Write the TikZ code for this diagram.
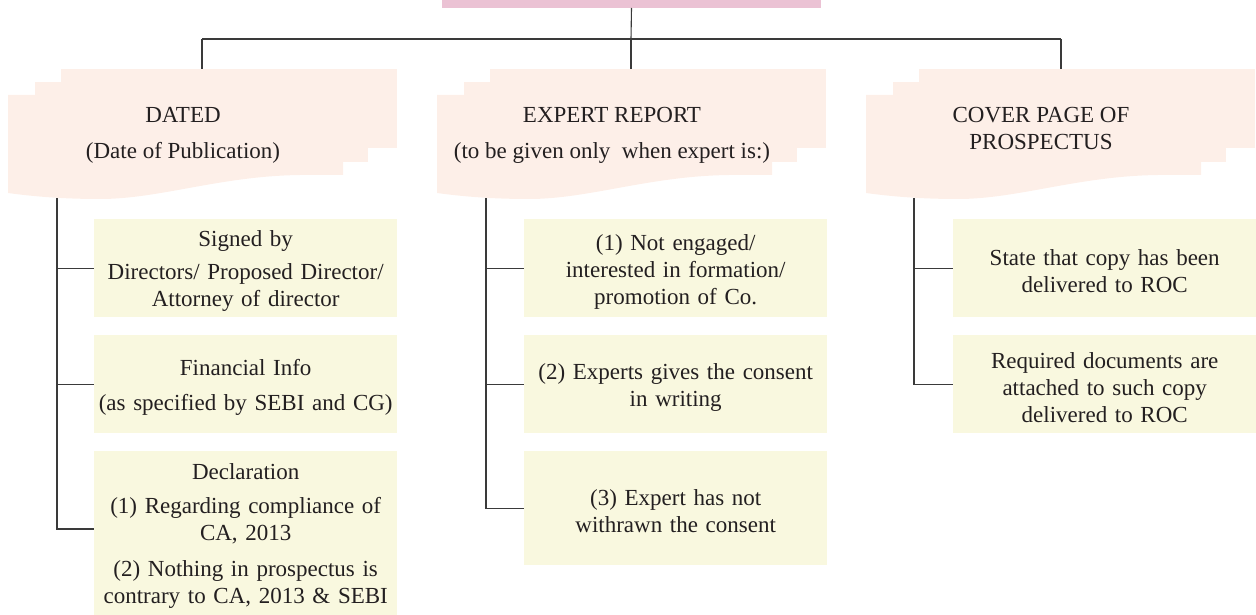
\documentclass[tikz,border=0pt]{standalone}
\usepackage{fontspec}
\setmainfont{Liberation Serif}
\usetikzlibrary{calc}
\definecolor{titlepink}{HTML}{EBC2D4}
\definecolor{hdrpeach}{HTML}{FDEFE8}
\definecolor{itemyellow}{HTML}{F9F8DF}
\definecolor{linegray}{HTML}{3A3A3A}
\definecolor{inkgray}{HTML}{231F20}
\tikzset{
  conn/.style={draw=linegray, line width=1.1pt},
  hdrlayer/.style={fill=hdrpeach, draw=none},
  hdrtext/.style={align=center, text=inkgray, font=\fontsize{23}{27}\selectfont, inner sep=0pt},
  itembox/.style={fill=itemyellow, draw=none, anchor=north west, align=center,
    text width=295pt, inner xsep=4pt, inner ysep=2pt, minimum height=98pt,
    text=inkgray, font=\fontsize{23}{27}\selectfont,
    execute at begin node={\rule{0pt}{22.5pt}}},
}
% stacked-paper header: three layers, front one with a wavy lower edge
\newcommand{\paperstack}[1]{%
  \begin{scope}[xshift=#1]
    \fill[hdrlayer] (61,69) rectangle (397,148);
    \fill[hdrlayer] (35,82) rectangle (368,162);
    \fill[hdrlayer] (8,95) -- (343,95) -- (343,175) -- (300,175)
      .. controls (220,176) and (160,199) .. (100,199)
      .. controls (60,199) and (30,196) .. (8,193) -- cycle;
  \end{scope}}
\begin{document}
\begin{tikzpicture}[x=1pt, y=-1pt]
  \useasboundingbox (0,0) rectangle (1256,615);
  \clip (0,0) rectangle (1256,615);

  % title bar
  \node[fill=titlepink, minimum width=379pt, minimum height=48pt, inner sep=0pt,
        anchor=south] (title) at (631.5,8) {};

  % headers
  \paperstack{0pt}
  \paperstack{429pt}
  \paperstack{858pt}
  \node[hdrtext] (h1) at (183,135) {DATED\\[9pt](Date of Publication)};
  \node[hdrtext] (h2) at (612,135) {EXPERT REPORT\\[9pt](to be given only\ \ when expert is:)};
  \node[hdrtext] (h3) at (1041,128) {COVER PAGE OF\\PROSPECTUS};

  % top-level connectors
  \coordinate (jL) at (202,39);
  \coordinate (jM) at (631,39);
  \coordinate (jR) at (1061,39);
  \coordinate (t1) at (202,69);
  \coordinate (t2) at (631,69);
  \coordinate (t3) at (1061,69);
  \draw[conn] (title.south) -- (jM);
  \draw[conn] (jL) -- (jR);
  \draw[conn] (jL) -- (t1);
  \draw[conn] (jM) -- (t2);
  \draw[conn] (jR) -- (t3);

  % left column
  \node[itembox] (a1) at (94,219) {Signed by\\[6pt]Directors/ Proposed Director/\\Attorney of director};
  \node[itembox] (a2) at (94,335) {Financial Info\\[8pt](as specified by SEBI and CG)};
  \node[itembox, minimum height=164pt] (a3) at (94,451)
    {Declaration\\[7pt](1) Regarding compliance of\\CA, 2013\\[9pt](2) Nothing in prospectus is\\contrary to CA, 2013 \& SEBI};
  \coordinate (s1) at (57,198);
  \coordinate (a3in) at ($(a3.north west)+(0,78)$);
  \draw[conn] (s1) |- (a3in);
  \draw[conn] (s1 |- a1.west) -- (a1.west);
  \draw[conn] (s1 |- a2.west) -- (a2.west);

  % middle column
  \node[itembox] (b1) at (524,219) {(1) Not engaged/\\interested in formation/\\promotion of Co.};
  \node[itembox] (b2) at (524,335) {(2) Experts gives the consent\\in writing};
  \node[itembox, minimum height=114pt] (b3) at (524,451) {(3) Expert has not\\withrawn the consent};
  \coordinate (s2) at (486,198);
  \draw[conn] (s2) |- (b3.west);
  \draw[conn] (s2 |- b1.west) -- (b1.west);
  \draw[conn] (s2 |- b2.west) -- (b2.west);

  % right column
  \node[itembox] (c1) at (953,219) {State that copy has been\\delivered to ROC};
  \node[itembox] (c2) at (953,335) {Required documents are\\attached to such copy\\delivered to ROC};
  \coordinate (s3) at (914,198);
  \draw[conn] (s3) |- (c2.west);
  \draw[conn] (s3 |- c1.west) -- (c1.west);
\end{tikzpicture}
\end{document}
